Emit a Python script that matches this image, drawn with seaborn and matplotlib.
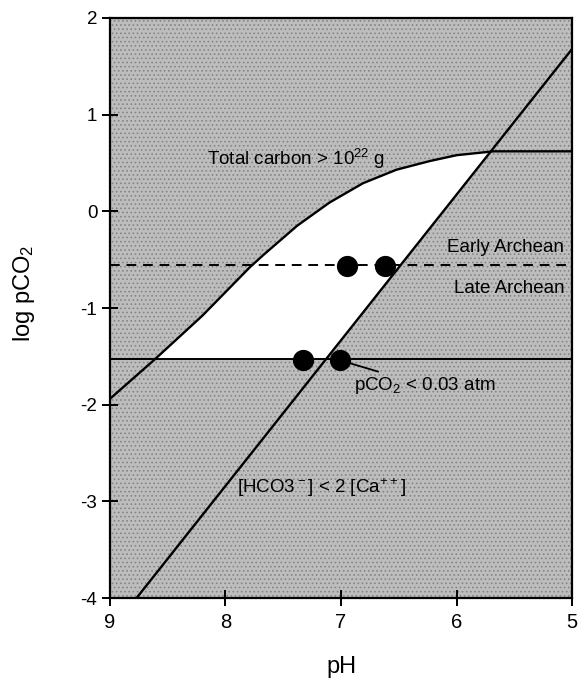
import numpy as np
import matplotlib
matplotlib.use("Agg")
import matplotlib.pyplot as plt
import seaborn as sns

# valores (pH x log pCO2)
curva_ph = [9.0, 8.61, 8.2, 7.79, 7.67, 7.38, 7.10, 6.81, 6.52, 6.23, 6.0, 5.68, 5.0]
curva_log = [-1.94, -1.53, -1.08, -0.58, -0.45, -0.15, 0.09, 0.29, 0.43, 0.52, 0.58, 0.62, 0.62]

diag_ph = [8.77, 5.0]
diag_log = [-4.0, 1.68]

limite_pco2 = -1.53   # pCO2 < 0.03 atm
limite_arqueano = -0.56

pontos_ph = [6.95, 6.62, 7.33, 7.01]
pontos_log = [-0.57, -0.57, -1.54, -1.54]

x_ticks = [9, 8, 7, 6, 5]
y_ticks = [2, 1, 0, -1, -2, -3, -4]

sns.set_style("ticks")
plt.rcParams["font.family"] = ["Liberation Sans", "DejaVu Sans"]
plt.rcParams["mathtext.default"] = "regular"
plt.rcParams["text.color"] = "black"
plt.rcParams["axes.labelcolor"] = "black"
plt.rcParams["hatch.linewidth"] = 0.7
plt.rcParams["hatch.color"] = "#858585"

fig = plt.figure(figsize=(5.78, 6.86), dpi=100)
ax = fig.add_axes([0.190, 0.128, 0.800, 0.846])

# fundo cinza pontilhado
ax.add_patch(plt.Rectangle((0, 0), 1, 1, transform=ax.transAxes, facecolor="#bdbdbd",
                           edgecolor="#858585", hatch="....", linewidth=0, zorder=0))

# região branca: abaixo da curva, acima de pCO2 limite, à esquerda da diagonal
ph = np.linspace(min(curva_ph), max(curva_ph), 800)
topo = np.interp(ph, curva_ph[::-1], curva_log[::-1])
diag = np.interp(ph, diag_ph[::-1], diag_log[::-1])
base = np.maximum(limite_pco2, diag)
ax.fill_between(ph, base, topo, where=topo >= base, facecolor="white", edgecolor="none",
                interpolate=True, zorder=1)

sns.lineplot(x=curva_ph, y=curva_log, sort=False, color="black", linewidth=1.7, ax=ax, zorder=3)
sns.lineplot(x=diag_ph, y=diag_log, sort=False, color="black", linewidth=1.7, ax=ax, zorder=3)
ax.axhline(limite_pco2, color="black", linewidth=1.4, zorder=3)
ax.axhline(limite_arqueano, color="black", linewidth=1.4, linestyle=(0, (5, 3.5)), zorder=3)

sns.scatterplot(x=pontos_ph, y=pontos_log, s=200, color="black", edgecolor="black",
                ax=ax, zorder=4)

fs = 13.5
ax.text(8.16, 0.54, "Total carbon > 10$^{22}$ g", fontsize=fs, va="center", ha="left", zorder=5)
ax.text(5.07, -0.37, "Early Archean", fontsize=fs, va="center", ha="right", zorder=5)
ax.text(5.07, -0.80, "Late Archean", fontsize=fs, va="center", ha="right", zorder=5)
ax.text(7.17, -2.86, "[HCO3$^-$] < 2 [Ca$^{++}$]", fontsize=fs, va="center", ha="center", zorder=5)
ax.annotate("pCO$_2$ < 0.03 atm", xy=(7.01, -1.54), xytext=(6.89, -1.8), fontsize=fs,
            va="center", ha="left", zorder=5,
            arrowprops=dict(arrowstyle="-", color="black", lw=1.3, shrinkA=0, shrinkB=0))

ax.set_xlim(9, 5)
ax.set_ylim(-4, 2)
ax.set_xticks(x_ticks)
ax.set_yticks(y_ticks)
ax.set_xticklabels([str(t) for t in x_ticks])
ax.set_yticklabels([str(t) for t in y_ticks])
ax.tick_params(direction="inout", length=12, width=1.4, colors="black")
ax.tick_params(axis="x", labelsize=14.5, pad=5)
ax.tick_params(axis="y", labelsize=13.5, pad=3)
for s in ax.spines.values():
    s.set_linewidth(1.6)
    s.set_color("black")

ax.set_xlabel("pH", fontsize=17)
ax.set_ylabel("log pCO$_2$", fontsize=17)
ax.xaxis.set_label_coords(0.5, -0.1)
ax.yaxis.set_label_coords(-0.158, 0.525)

fig.savefig("out.png", dpi=100)
